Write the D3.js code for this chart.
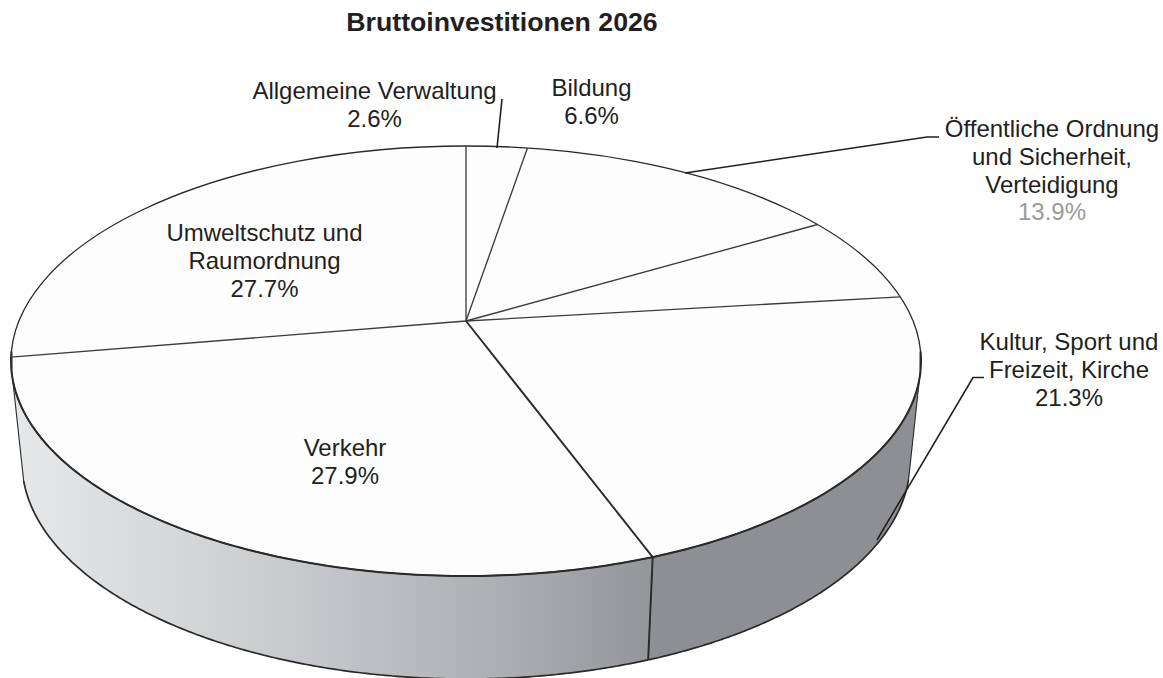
<!DOCTYPE html>
<html><head><meta charset="utf-8">
<script src="https://cdn.jsdelivr.net/npm/d3@7"></script>
<style>html,body{margin:0;padding:0;background:#fff;overflow:hidden}svg{display:block}
text{font-family:"Liberation Sans",Arial,sans-serif;fill:#231f20}</style>
</head><body><svg id="c" width="1163" height="678"></svg>
<script>
const categories = ["Allgemeine Verwaltung","Öffentliche Ordnung und Sicherheit, Verteidigung","Bildung","Kultur, Sport und Freizeit, Kirche","Verkehr","Umweltschutz und Raumordnung"];
const shares = [2.6,13.9,6.6,21.3,27.9,27.7];
const shareLabels = ["2.6%","13.9%","6.6%","21.3%","27.9%","27.7%"];
const labelLines = [["Allgemeine Verwaltung"],["Öffentliche Ordnung","und Sicherheit,","Verteidigung"],["Bildung"],["Kultur, Sport und","Freizeit, Kirche"],["Verkehr"],["Umweltschutz und","Raumordnung"]];
const titleText = "Bruttoinvestitionen 2026";

const svg = d3.select("#c");
const W=1163,H=678;
const topE={cx:466,cy:361,rx:455,ry:215}, botE={cx:466,cy:462,rx:444,ry:217};
const k=-0.186, kq=Math.sqrt(1-k*k);
function unit(a){const u=Math.sin(a),v=-Math.cos(a),d=1+k*v;return [u*kq/d,(v+k)/d];}
const on=(e,p)=>[e.cx+p[0]*e.rx,e.cy+p[1]*e.ry];
const arcs=d3.pie().sort(null).value(d=>d)(shares);
const line=d3.line();
const dark="#2b2a2b";
const defs=svg.append("defs");
const grad=defs.append("linearGradient").attr("id","g1").attr("gradientUnits","userSpaceOnUse").attr("x1",20).attr("x2",650).attr("y1",0).attr("y2",0);
[[0,"#e6e7e9"],[0.3,"#d2d3d5"],[0.5,"#c3c4c7"],[0.75,"#aeafb2"],[1,"#95969a"]].forEach(s=>grad.append("stop").attr("offset",s[0]).attr("stop-color",s[1]));

const vis=0.08;
function samples(a0,a1,n=180){return d3.range(n+1).map(i=>a0+(a1-a0)*i/n);}
// side walls
arcs.forEach((a,i)=>{
  const pts=samples(a.startAngle,a.endAngle,240).map(unit).filter(p=>p[1]>=vis);
  if(pts.length<2) return;
  const upper=pts.map(p=>on(topE,p)), lower=pts.map(p=>on(botE,p)).reverse();
  const col=(i===4)?"url(#g1)":"#8e8f93";
  svg.append("path").attr("d",line(upper.concat(lower))+"Z").attr("fill",col).attr("stroke","none");
  svg.append("path").attr("d",line(lower)).attr("fill","none").attr("stroke",dark).attr("stroke-width",1.7);
  svg.append("path").attr("d",line([upper[0],lower[lower.length-1]])).attr("fill","none").attr("stroke",i===3?dark:"none").attr("stroke-width",1.1);
  svg.append("path").attr("d",line([upper[upper.length-1],lower[0]])).attr("fill","none").attr("stroke",dark).attr("stroke-width",1.1);
});
// edge between Kultur and Verkehr
{const p=unit(arcs[3].endAngle);svg.append("path").attr("d",line([on(topE,p),on(botE,p)])).attr("stroke",dark).attr("stroke-width",1.9).attr("fill","none");}
// top surface
svg.append("ellipse").attr("cx",topE.cx).attr("cy",topE.cy).attr("rx",topE.rx).attr("ry",topE.ry).attr("fill","#fdfdfd").attr("stroke",dark).attr("stroke-width",1.3);
const front=samples(0,2*Math.PI,480).map(unit).filter(p=>p[1]>=-0.05).sort((a,b)=>a[0]-b[0]).map(p=>on(topE,p));
svg.append("path").attr("d",line(front)).attr("fill","none").attr("stroke",dark).attr("stroke-width",2);
const apex=on(topE,[0,k]);
arcs.forEach(a=>{
  const p=unit(a.startAngle);
  svg.append("path").attr("d",line([apex,on(topE,p)])).attr("fill","none").attr("stroke",p[1]>0.5?dark:"#3c3c3e").attr("stroke-width",p[1]>0.5?1.9:1.35);
});
// labels (layout anchors, by category order)
const anchors=[[374.5,98.5],[1052,137],[591.5,96],[1069,350],[345,456],[264.5,241]];
const lh=[28,27.8,28,28,28,28];
const fs=24;
arcs.forEach((a,i)=>{
  const t=svg.append("text").attr("text-anchor","middle").attr("font-size",fs);
  const lines=labelLines[i].concat([shareLabels[i]]);
  lines.forEach((s,j)=>{
    const ts=t.append("tspan").attr("x",anchors[i][0]).attr("y",anchors[i][1]+j*lh[i]).text(s);
    if(i===1&&j===lines.length-1) ts.style("fill","#9a9a9c");
  });
});
svg.append("text").attr("x",502).attr("y",31).attr("text-anchor","middle").attr("font-size",26.7).attr("font-weight","bold").text(titleText);
// leaders
const leaders=[[[502,99],[497,148]],[[685,173],[927,137],[939,137]],[[984,377.5],[973,377.5],[877,540]]];
leaders.forEach(l=>svg.append("path").attr("d",line(l)).attr("fill","none").attr("stroke","#231f20").attr("stroke-width",1.6));
</script></body></html>
